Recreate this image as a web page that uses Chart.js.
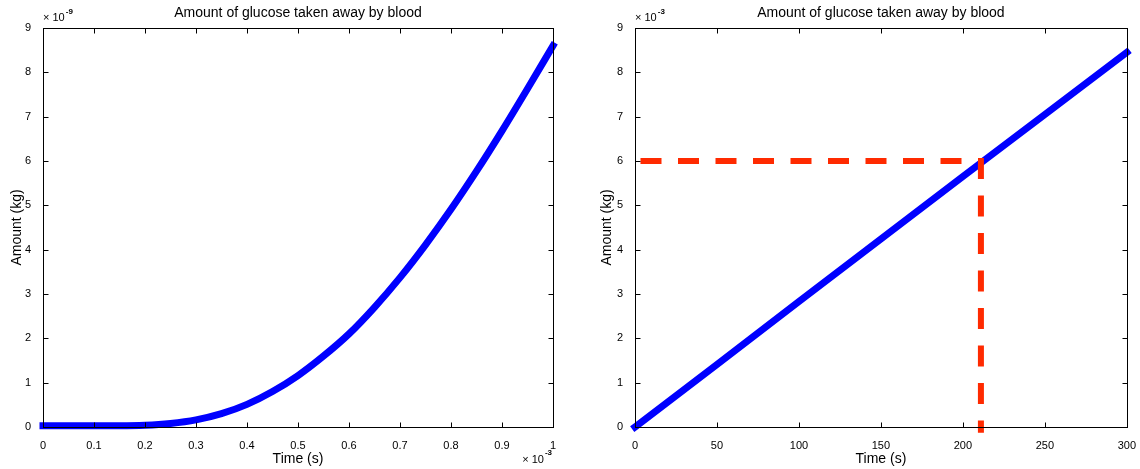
<!DOCTYPE html>
<html>
<head>
<meta charset="utf-8">
<script src="https://cdn.jsdelivr.net/npm/chart.js@4"></script>
<style>
  body { margin: 0; background: #fff; }
  #wrap { position: relative; width: 1140px; height: 469px; }
  #leftChart { position: absolute; left: 0; top: 0; }
  #rightChart { position: absolute; left: 590px; top: 0; }
</style>
</head>
<body>
<div id="wrap">
  <canvas id="leftChart" width="590" height="469"></canvas>
  <canvas id="rightChart" width="550" height="469"></canvas>
</div>
<script>
// Left plot: time in units of 1e-3 s, amount in units of 1e-9 kg
const leftTime = [0, 0.05, 0.1, 0.15, 0.2, 0.25, 0.3, 0.35, 0.4, 0.45, 0.5, 0.55, 0.6, 0.65, 0.7, 0.75, 0.8, 0.85, 0.9, 0.95, 1.0];
const leftAmount = [0.03, 0.03, 0.03, 0.03, 0.04, 0.08, 0.16, 0.30, 0.51, 0.80, 1.16, 1.60, 2.10, 2.70, 3.37, 4.11, 4.91, 5.77, 6.68, 7.63, 8.60];

// Right plot: time in s, amount in units of 1e-3 kg
const rightTime = [0, 50, 100, 150, 200, 250, 300];
const rightAmount = [0, 1.41, 2.83, 4.24, 5.65, 7.05, 8.45];

// Red dashed marker (6e-3 kg reached at ~211 s)
const markTime = [0, 211, 211];
const markAmount = [6, 6, -0.13];

// Tick labels
const leftXTicks = [0, 0.1, 0.2, 0.3, 0.4, 0.5, 0.6, 0.7, 0.8, 0.9, 1];
const rightXTicks = [0, 50, 100, 150, 200, 250, 300];
const yTicks = [0, 1, 2, 3, 4, 5, 6, 7, 8, 9];

const titleText = "Amount of glucose taken away by blood";
const FONT = "'Liberation Sans', Arial, Helvetica, sans-serif";

const toPoints = (xs, ys) => xs.map((x, i) => ({ x, y: ys[i] }));

// MATLAB-like box: inward ticks on all sides, title, exponent labels
const matlabBox = {
  id: "matlabBox",
  afterDatasetsDraw(chart, args, opts) {
    const { ctx, chartArea: a, scales: { x, y } } = chart;
    const L = Math.round(a.left) + 0.5, R = Math.round(a.right) + 0.5;
    const T = Math.round(a.top) + 0.5, B = Math.round(a.bottom) + 0.5;
    ctx.save();
    ctx.strokeStyle = "#000";
    ctx.lineWidth = 1;
    ctx.beginPath();
    x.ticks.forEach(t => {
      const px = Math.round(x.getPixelForValue(t.value)) + 0.5;
      ctx.moveTo(px, B); ctx.lineTo(px, B - 5);
      ctx.moveTo(px, T); ctx.lineTo(px, T + 5);
    });
    y.ticks.forEach(t => {
      const py = Math.round(y.getPixelForValue(t.value)) + 0.5;
      ctx.moveTo(L, py); ctx.lineTo(L + 5, py);
      ctx.moveTo(R, py); ctx.lineTo(R - 5, py);
    });
    ctx.stroke();
    ctx.strokeRect(L, T, R - L, B - T);

    // title
    ctx.fillStyle = "#000";
    ctx.font = "14px " + FONT;
    ctx.textAlign = "center";
    ctx.textBaseline = "middle";
    ctx.fillText(opts.title, (a.left + a.right) / 2, 13);

    // exponent labels
    ctx.textBaseline = "alphabetic";
    if (opts.yExp) {
      ctx.textAlign = "left";
      ctx.font = "11px " + FONT;
      const base = "\u00d7 10";
      ctx.fillText(base, a.left, 21);
      const w = ctx.measureText(base).width;
      ctx.font = "bold 8px " + FONT;
      ctx.fillText(opts.yExp, a.left + w + 1, 14);
    }
    if (opts.xExp) {
      ctx.font = "bold 8px " + FONT;
      const ew = ctx.measureText(opts.xExp).width;
      ctx.textAlign = "right";
      ctx.fillText(opts.xExp, a.right - 1, 455);
      ctx.font = "11px " + FONT;
      ctx.fillText("\u00d7 10", a.right - ew - 2, 463);
    }
    ctx.restore();
  }
};

function makeScales(xTicks, xMax, yAxisWidth) {
  return {
    x: {
      type: "linear",
      min: 0,
      max: xMax,
      grid: { display: false },
      border: { display: false },
      afterBuildTicks: s => { s.ticks = xTicks.map(v => ({ value: v })); },
      afterFit: s => { s.height = 42; },
      ticks: {
        color: "#000",
        padding: 4,
        maxRotation: 0,
        autoSkip: false,
        font: { family: FONT, size: 11 },
        callback: v => String(v)
      },
      title: {
        display: true,
        text: "Time (s)",
        color: "#000",
        font: { family: FONT, size: 14 },
        padding: { top: 0, bottom: 1.5 }
      }
    },
    y: {
      type: "linear",
      min: 0,
      max: 9,
      grid: { display: false },
      border: { display: false },
      afterBuildTicks: s => { s.ticks = yTicks.map(v => ({ value: v })); },
      afterFit: s => { s.width = yAxisWidth; },
      ticks: {
        color: "#000",
        padding: 4,
        font: { family: FONT, size: 11 },
        callback: v => String(v)
      },
      title: {
        display: true,
        text: "Amount (kg)",
        color: "#000",
        font: { family: FONT, size: 14 },
        padding: { top: 9, bottom: 0 }
      }
    }
  };
}

const commonPlugins = { legend: { display: false }, tooltip: { enabled: false } };

new Chart(document.getElementById("leftChart"), {
  type: "scatter",
  data: {
    datasets: [{
      data: toPoints(leftTime, leftAmount),
      showLine: true,
      borderColor: "#0000ff",
      borderWidth: 7,
      borderCapStyle: "square",
      cubicInterpolationMode: "monotone",
      pointRadius: 0,
      clip: false
    }]
  },
  options: {
    responsive: false,
    animation: false,
    layout: { padding: { top: 28, right: 37, left: 0, bottom: 0 } },
    scales: makeScales(leftXTicks, 1, 43),
    plugins: Object.assign({}, commonPlugins, {
      matlabBox: { title: titleText, yExp: "-9", xExp: "-3" }
    })
  },
  plugins: [matlabBox]
});

new Chart(document.getElementById("rightChart"), {
  type: "scatter",
  data: {
    datasets: [{
      data: toPoints(markTime, markAmount),
      showLine: true,
      borderColor: "#ff2a00",
      borderWidth: 6,
      borderDash: [21, 16.5],
      borderDashOffset: 32,
      pointRadius: 0,
      clip: false
    }, {
      data: toPoints(rightTime, rightAmount),
      showLine: true,
      borderColor: "#0000ff",
      borderWidth: 7,
      borderCapStyle: "square",
      pointRadius: 0,
      clip: false
    }]
  },
  options: {
    responsive: false,
    animation: false,
    layout: { padding: { top: 28, right: 12.5, left: 0, bottom: 0 } },
    scales: makeScales(rightXTicks, 300, 45),
    plugins: Object.assign({}, commonPlugins, {
      matlabBox: { title: titleText, yExp: "-3" }
    })
  },
  plugins: [matlabBox]
});
</script>
</body>
</html>
